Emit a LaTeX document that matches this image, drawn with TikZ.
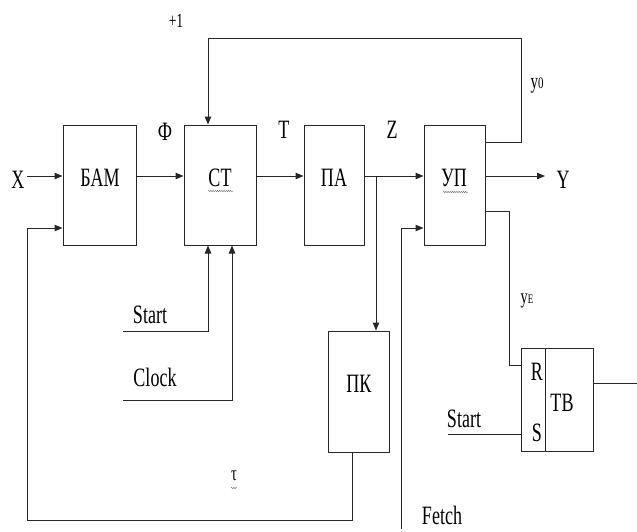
\documentclass[tikz,border=0pt]{standalone}
\usepackage{fontspec}
\usepackage{graphicx}
\setmainfont{Liberation Serif}
\usetikzlibrary{arrows.meta,decorations.pathmorphing}
\newcommand{\nar}[1]{\scalebox{0.68}[1]{#1}}
\tikzset{
  ln/.style={line width=1pt, draw=black!85},
  arr/.style={ln, -{Triangle[length=8pt,width=6.5pt]}},
  blk/.style={ln, rectangle, inner sep=0pt},
  big/.style={inner sep=0pt, font=\fontsize{26.5}{26.5}\selectfont},
  small/.style={inner sep=0pt, font=\fontsize{20}{20}\selectfont},
  wave/.style={draw=black!55, line width=0.4pt, decorate, decoration={snake, amplitude=0.8pt, segment length=2.2pt}}
}
\begin{document}
\begin{tikzpicture}[x=1pt,y=-1pt]
\useasboundingbox (0,0) rectangle (637,531);
% blocks
\node[blk, minimum width=73pt, minimum height=120pt] (bam) at (99.5,185) {};
\node[blk, minimum width=72pt, minimum height=120pt] (ct) at (220,185) {};
\node[blk, minimum width=60pt, minimum height=120pt] (pa) at (334,185) {};
\node[blk, minimum width=61pt, minimum height=120pt] (up) at (454.5,185) {};
\node[blk, minimum width=61pt, minimum height=121pt] (pk) at (358.5,391.5) {};
\node[blk, minimum width=72pt, minimum height=103pt] (tb) at (557,399.5) {};
% block texts
\node[big] (bamt) at (100,178) {\nar{БАМ}};
\node[big] (ctt) at (220,178) {\nar{СТ}};
\node[big] (pat) at (334,178) {\nar{ПА}};
\node[big] (upt) at (454,178) {\nar{УП}};
\node[big] (pkt) at (359,384) {\nar{ПК}};
\node[big] (tbt) at (562,403) {\nar{ТВ}};
\node[big] (rt) at (537,372) {\nar{R}};
\node[big] (st) at (537,433) {\nar{S}};
\draw[ln] (545,348) -- (545,451);
% wavy underlines
\draw[wave] (208,191) -- (233,191);
\draw[wave] (443,192) -- (468,192);
\draw[wave] (231,488) -- (237,488);
% labels
\node[big] (xl) at (18,180) {\nar{X}};
\node[big] (yl) at (563,180) {\nar{Y}};
\node[big] (phil) at (165,132) {\nar{Ф}};
\node[big] (tl) at (284,130) {\nar{T}};
\node[big] (zl) at (392,130) {\nar{Z}};
\node[small] (p1) at (176,21) {\nar{+1}};
\node[inner sep=0pt] (y0) at (537,86) {\nar{\fontsize{22}{22}\selectfont y\fontsize{16}{16}\selectfont 0}};
\node[inner sep=0pt] (ye) at (527,301) {\nar{\fontsize{21}{21}\selectfont y\fontsize{13}{13}\selectfont E}};
\node[big] (start1) at (150,315) {\nar{Start}};
\node[big] (clock) at (155,377) {\nar{Clock}};
\node[inner sep=0pt, font=\fontsize{21}{21}\selectfont] (tau) at (234,476) {\nar{τ}};
\node[big] (fetch) at (442,515) {\nar{Fetch}};
\node[big] (start2) at (464,419) {\nar{Start}};
% helper coordinates
\coordinate (row) at (0,176);
\coordinate (low) at (0,228);
\coordinate (top) at (208,38);
\coordinate (tr) at (521,38);
\coordinate (up1) at (521,142);
\coordinate (br) at (376,176);
\coordinate (fb) at (27,520);
\coordinate (fbp) at (352,520);
\coordinate (fbu) at (27,228);
\coordinate (s1) at (123,331);
\coordinate (s1c) at (208,331);
\coordinate (c1) at (123,400);
\coordinate (c1c) at (232,400);
\coordinate (fe) at (401,529);
\coordinate (fec) at (401,228);
\coordinate (ye1) at (509,211);
\coordinate (ye2) at (509,365);
\coordinate (s2) at (448,434);
\coordinate (tbo) at (637,383);
\coordinate (yend) at (545,176);
\coordinate (xst) at (27,176);
% connectors
\draw[arr] (xst) -- (bam.west |- row);
\draw[arr] (bam.east |- row) -- (ct.west |- row);
\draw[arr] (ct.east |- row) -- (pa.west |- row);
\draw[arr] (pa.east |- row) -- (up.west |- row);
\draw[arr] (up.east |- row) -- (yend);
\draw[arr] (up.east |- up1) -- (up1) -- (tr) -- (top) -- (top |- ct.north);
\draw[arr] (br) -- (br |- pk.north);
\draw[arr] (pk.south -| fbp) -- (fbp) -- (fb) -- (fbu) -- (bam.west |- low);
\draw[arr] (s1) -- (s1c) -- (s1c |- ct.south);
\draw[arr] (c1) -- (c1c) -- (c1c |- ct.south);
\draw[arr] (fe) -- (fec) -- (up.west |- low);
\draw[ln] (up.east |- ye1) -- (ye1) -- (ye2) -- (tb.west |- ye2);
\draw[ln] (s2) -- (tb.west |- s2);
\draw[ln] (tb.east |- tbo) -- (tbo);
\end{tikzpicture}
\end{document}
